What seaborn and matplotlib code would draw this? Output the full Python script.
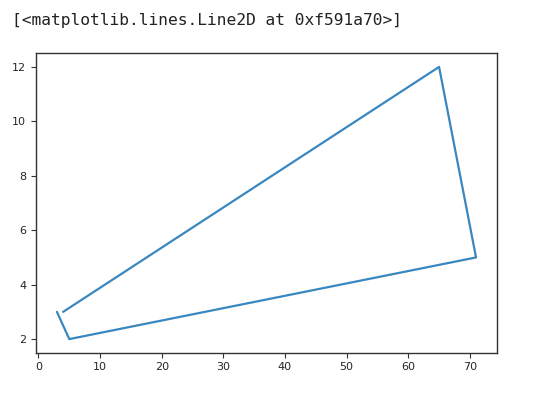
import pandas as pd
import seaborn as sns
import matplotlib.pyplot as plt

x_vals = [3, 5, 71, 65, 4]
y_vals = [3, 2, 5, 12, 3]
repr_text = '[<matplotlib.lines.Line2D at 0xf591a70>]'

df = pd.DataFrame({'x': x_vals, 'y': y_vals})

sns.set_style("ticks")
fig = plt.figure(figsize=(5.43, 4.0), dpi=100)
ax = fig.add_axes([36 / 543, 47.3 / 400, 461 / 543, 299.4 / 400])

sns.lineplot(data=df, x='x', y='y', sort=False, estimator=None, color='#3a87c0', linewidth=1.6, ax=ax)

ax.set_xlabel('')
ax.set_ylabel('')
ax.set_xticks(range(0, 71, 10))
ax.set_yticks(range(2, 13, 2))
ax.tick_params(labelsize=8, length=3.5, color='#333333')
for s in ax.spines.values():
    s.set_color('#333333')
    s.set_linewidth(1.0)

fig.text(12 / 543, 1 - 20 / 400, repr_text, family='DejaVu Sans Mono', fontsize=11.7, color='#222222', va='center')

plt.savefig('out.png', dpi=100)
